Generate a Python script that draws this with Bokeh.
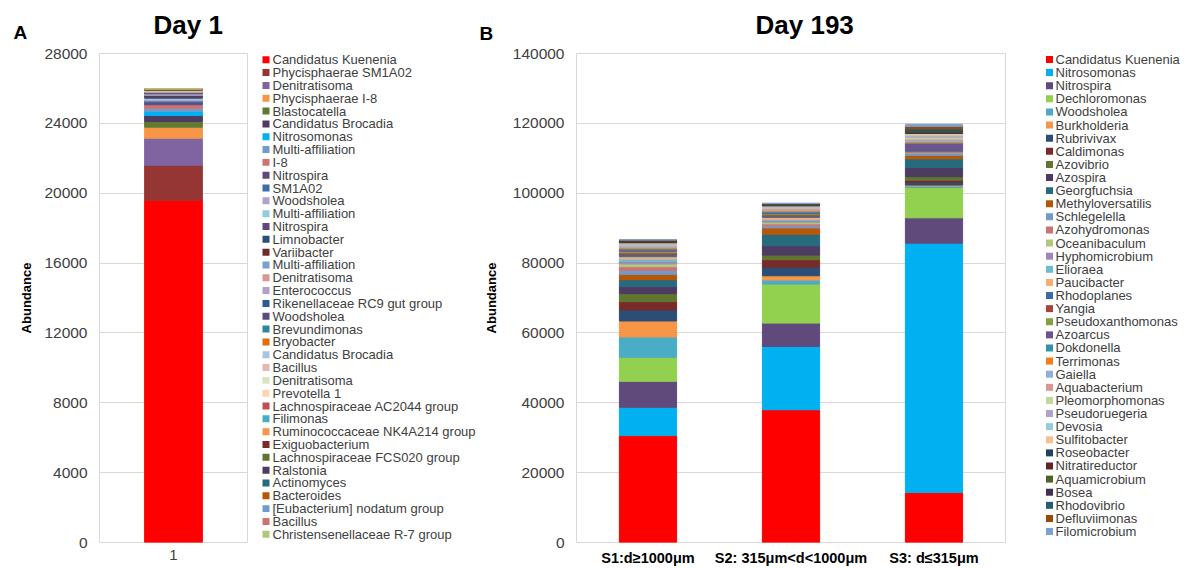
from bokeh.plotting import figure
from bokeh.models import (ColumnDataSource, FactorRange, Range1d, FixedTicker,
                          BasicTickFormatter)
from bokeh.core.properties import value
from bokeh.layouts import row, column
from bokeh.embed import file_html
from bokeh.resources import INLINE

FONT = "Liberation Sans"

# ---------------- data: panel A (Day 1) ----------------
a_categories = ["1"]
a_names = ["Candidatus Kuenenia", "Phycisphaerae SM1A02", "Denitratisoma", "Phycisphaerae I-8",
           "Blastocatella", "Candidatus Brocadia", "Nitrosomonas", "Multi-affiliation", "I-8",
           "Nitrospira", "SM1A02", "Woodsholea", "Multi-affiliation", "Nitrospira", "Limnobacter",
           "Variibacter", "Multi-affiliation", "Denitratisoma", "Enterococcus",
           "Rikenellaceae RC9 gut group", "Woodsholea", "Brevundimonas", "Bryobacter",
           "Candidatus Brocadia", "Bacillus", "Denitratisoma", "Prevotella 1",
           "Lachnospiraceae AC2044 group", "Filimonas", "Ruminococcaceae NK4A214 group",
           "Exiguobacterium", "Lachnospiraceae FCS020 group", "Ralstonia", "Actinomyces",
           "Bacteroides", "[Eubacterium] nodatum group", "Bacillus", "Christensenellaceae R-7 group"]
a_values = [19600, 2000, 1550, 630, 330, 340, 230, 190, 195,
            120, 100, 80, 70, 60, 50, 45, 40, 35, 30,
            28, 26, 24, 22, 20, 18, 17, 16, 15, 14, 13,
            12, 11, 10, 10, 9, 9, 8, 8]
a_ticks = [0, 4000, 8000, 12000, 16000, 20000, 24000, 28000]

# ---------------- data: panel B (Day 193) ----------------
b_categories = ["S1:d≥1000μm", "S2: 315μm<d<1000μm", "S3: d≤315μm"]
b_names = ["Candidatus Kuenenia", "Nitrosomonas", "Nitrospira", "Dechloromonas", "Woodsholea",
           "Burkholderia", "Rubrivivax", "Caldimonas", "Azovibrio", "Azospira", "Georgfuchsia",
           "Methyloversatilis", "Schlegelella", "Azohydromonas", "Oceanibaculum", "Hyphomicrobium",
           "Elioraea", "Paucibacter", "Rhodoplanes", "Yangia", "Pseudoxanthomonas", "Azoarcus",
           "Dokdonella", "Terrimonas", "Gaiella", "Aquabacterium", "Pleomorphomonas",
           "Pseudoruegeria", "Devosia", "Sulfitobacter", "Roseobacter", "Nitratireductor",
           "Aquamicrobium", "Bosea", "Rhodovibrio", "Defluviimonas", "Filomicrobium"]
b_s1 = [30600, 8100, 7440, 6870, 5830, 4580, 3150, 2390, 2290, 2000, 2000, 1520, 1150, 1050,
        800, 700, 700, 650, 600, 500, 450, 400, 350, 300, 280, 260, 240, 220, 200, 180, 160,
        150, 140, 130, 120, 110, 100]
b_s2 = [38000, 18140, 6680, 11160, 1150, 1230, 2490, 2100, 1340, 2670, 3300, 1820, 600, 550,
        500, 450, 400, 500, 350, 400, 300, 350, 300, 250, 300, 250, 200, 200, 180, 200, 150,
        130, 120, 110, 100, 90, 80]
b_s3 = [14300, 71400, 7260, 8680, 400, 300, 800, 600, 1000, 2600, 2500, 1000, 600, 100,
        80, 80, 70, 70, 70, 80, 50, 2200, 200, 300, 400, 400, 500, 350, 300, 400, 300,
        150, 300, 200, 400, 700, 600]
b_ticks = [0, 20000, 40000, 60000, 80000, 100000, 120000, 140000]

panel_letters = ["A", "B"]
panel_titles = ["Day 1", "Day 193"]

# ---------------- styles ----------------
a_colors = ["#FF0000", "#963634", "#8064A2", "#F79646", "#617A33", "#4D3B62", "#00B0F0",
            "#729ACA", "#CD7371", "#604A7B", "#3D6CA6", "#B3A2C7", "#93CDDD", "#5F497A",
            "#2C4D75", "#6B2B2A", "#7BA0CD", "#D99694", "#B1A0C7", "#2C5A92", "#5B4A7E",
            "#31859C", "#E46C0A", "#A9C4E4", "#E6B9B8", "#D7E4BD", "#FCD5B5", "#C0504D",
            "#4BACC6", "#F79646", "#772C2A", "#5F7530", "#4D3B62", "#276A7C", "#B65708",
            "#729ACA", "#CD7371", "#AFC97A"]
b_colors = ["#FF0000", "#00B0F0", "#604A7B", "#92D050", "#4BACC6", "#F79646", "#2C4D75",
            "#772C2A", "#5F7530", "#4D3B62", "#276A7C", "#B65708", "#729ACA", "#CD7371",
            "#AFC97A", "#9D87B8", "#6CBCD0", "#FAAD6E", "#3A6AA6", "#A8423F", "#7FA23A",
            "#6A5590", "#2F93AC", "#F57B1C", "#92AFD6", "#DA9694", "#C4D79B", "#B3A2C7",
            "#93CDDD", "#FABF8F", "#243F60", "#632523", "#4F6228", "#3F3151", "#22606E",
            "#984807", "#7FA1CE"]

GRID = "#D9D9D9"
TICK = "#404040"
HEADER_H = 44
ROW_H = 568 - HEADER_H
B_TOP = 9       # border above every frame in the row
B_BOT = 25      # border below every frame in the row
F_TOP = HEADER_H + B_TOP        # page y of frame top
F_BOT = 568 - B_BOT             # page y of frame bottom


def style(p, ticks, xbold):
    p.outline_line_color = GRID
    p.outline_line_width = 1
    p.xgrid.grid_line_color = None
    p.ygrid.grid_line_color = GRID
    p.ygrid.grid_line_width = 1
    p.yaxis.ticker = FixedTicker(ticks=ticks)
    p.yaxis.formatter = BasicTickFormatter(use_scientific=False)
    for ax in (p.xaxis, p.yaxis):
        ax.axis_line_color = None
        ax.major_tick_line_color = None
        ax.minor_tick_line_color = None
        ax.major_tick_in = 0
        ax.major_tick_out = 0
        ax.major_label_text_font = FONT
    p.yaxis.major_label_text_font_size = "15.5px"
    p.yaxis.major_label_text_color = TICK
    p.yaxis.major_label_standoff = 12
    p.yaxis.axis_label = "Abundance"
    p.yaxis.axis_label_text_font = FONT
    p.yaxis.axis_label_text_font_size = "13px"
    p.yaxis.axis_label_text_font_style = "bold"
    p.yaxis.axis_label_text_color = "#000000"
    p.xaxis.major_label_standoff = 7
    if xbold:
        p.xaxis.major_label_text_font_size = "14.5px"
        p.xaxis.major_label_text_font_style = "bold"
        p.xaxis.major_label_text_color = "#000000"
    else:
        p.xaxis.major_label_text_font_size = "15px"
        p.xaxis.major_label_text_color = TICK


def blank(p):
    p.outline_line_color = None
    p.axis.visible = False
    p.grid.visible = False


def legend_fig(names, colors, x0, x1, sq_x, txt_x, first_y, pitch):
    lf = figure(width=x1 - x0, height=ROW_H, x_range=Range1d(x0, x1),
                y_range=Range1d(F_BOT, F_TOP), output_backend="svg", toolbar_location=None,
                x_axis_location=None, y_axis_location=None, title=None,
                min_border_left=0, min_border_right=0,
                min_border_top=B_TOP, min_border_bottom=B_BOT)
    blank(lf)
    ys = [first_y + i * pitch for i in range(len(names))]
    src = ColumnDataSource(data=dict(y=ys, name=names, color=colors))
    lf.rect(x=sq_x, y="y", width=7, height=7, fill_color="color", line_color=None, source=src)
    lf.text(x=txt_x, y="y", text="name", source=src, text_font=value(FONT),
            text_font_size=value("13px"), text_baseline="middle", text_align="left",
            text_color=TICK)
    return lf


# ---------------- header (panel letters and titles) ----------------
hdr = figure(width=1189, height=HEADER_H, x_range=Range1d(0, 1189), y_range=Range1d(HEADER_H, 0),
             output_backend="svg", toolbar_location=None, title=None,
             x_axis_location=None, y_axis_location=None,
             min_border_left=0, min_border_right=0, min_border_top=0, min_border_bottom=0)
blank(hdr)
hdr.text(x=[13, 479], y=[31.5, 33], text=panel_letters, text_font=value(FONT),
         text_font_size=value("19px"), text_font_style="bold", text_baseline="middle",
         text_color="#000000")
hdr.text(x=[153, 755], y=[24, 24], text=panel_titles, text_font=value(FONT),
         text_font_size=value("26px"), text_font_style="bold", text_baseline="middle",
         text_color="#000000")

# ---------------- panel A ----------------
p1 = figure(x_range=FactorRange(*a_categories), y_range=Range1d(0, 28000), title=None,
            width=257, height=ROW_H, output_backend="svg", toolbar_location=None,
            min_border_left=99, min_border_right=10, min_border_top=B_TOP, min_border_bottom=B_BOT)
a_keys = [f"a{i}" for i in range(len(a_names))]
src_a = ColumnDataSource(data=dict(cat=a_categories, **{k: [v] for k, v in zip(a_keys, a_values)}))
p1.vbar_stack(a_keys, x="cat", width=0.39, color=a_colors, source=src_a)
style(p1, a_ticks, False)
p1.yaxis.axis_label_standoff = 7

legA = legend_fig(a_names, a_colors, 257, 480, 265.5, 272, 59.3, 12.85)

# ---------------- panel B ----------------
p2 = figure(x_range=FactorRange(*b_categories), y_range=Range1d(0, 140000), title=None,
            width=533, height=ROW_H, output_backend="svg", toolbar_location=None,
            min_border_left=91, min_border_right=8, min_border_top=B_TOP, min_border_bottom=B_BOT)
b_keys = [f"b{i}" for i in range(len(b_names))]
b_data = dict(cat=b_categories)
for i, k in enumerate(b_keys):
    b_data[k] = [b_s1[i], b_s2[i], b_s3[i]]
src_b = ColumnDataSource(data=b_data)
p2.vbar_stack(b_keys, x="cat", width=0.4, color=b_colors, source=src_b)
style(p2, b_ticks, True)
p2.yaxis.axis_label_standoff = 11

legB = legend_fig(b_names, b_colors, 1013, 1189, 1049, 1055, 59.0, 13.14)

layout = column(hdr, row(p1, legA, p2, legB))
open("out.html", "w").write(file_html(layout, INLINE))
